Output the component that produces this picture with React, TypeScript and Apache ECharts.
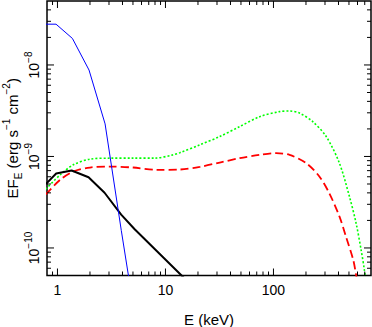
import React, { useEffect, useRef } from "react";
import * as echarts from "echarts";

const X_MIN = 0.8;
const X_MAX = 800;
const Y_MIN = 5e-11;
const Y_MAX = 5e-8;

const xMajorTicks = [1, 10, 100];
const xMinorTicks = [0.9, 2, 3, 4, 5, 6, 7, 8, 9, 20, 30, 40, 50, 60, 70, 80, 90, 200, 300, 400, 500, 600, 700];
const yMajorTicks = [1e-10, 1e-9, 1e-8];
const yMinorTicks = [6e-11, 7e-11, 8e-11, 9e-11, 2e-10, 3e-10, 4e-10, 5e-10, 6e-10, 7e-10, 8e-10, 9e-10,
  2e-9, 3e-9, 4e-9, 5e-9, 6e-9, 7e-9, 8e-9, 9e-9, 2e-8, 3e-8, 4e-8];

const blueE = [0.7, 0.97, 1.375, 1.96, 2.76, 3.9, 5.5];
const blueF = [2.79e-8, 2.79e-8, 1.95e-8, 8.8e-9, 2.27e-9, 1.55e-10, 1.2e-11];

const blackE = [0.78, 0.973, 1.352, 1.94, 2.73, 3.89, 5.16, 14.1, 20];
const blackF = [5.0e-10, 6.51e-10, 7.02e-10, 5.92e-10, 4.01e-10, 2.31e-10, 1.61e-10, 5.0e-11, 3.3e-11];

const greenE = [0.78, 1.06, 1.4, 2.0, 3.07, 5.0, 8.0, 11.7, 13.6, 20.8, 31.8, 48.7, 74.5, 114, 141, 175, 231, 308, 408, 505, 582, 647, 694, 760];
const greenF = [4.4e-10, 6.3e-10, 8.1e-10, 9.35e-10, 9.58e-10, 9.6e-10, 9.58e-10, 1.04e-9, 1.1e-9, 1.34e-9, 1.65e-9, 2.12e-9, 2.72e-9, 3.09e-9, 3.14e-9, 2.97e-9, 2.4e-9, 1.65e-9, 8.45e-10, 3.65e-10, 1.87e-10, 9.6e-11, 5.8e-11, 2.5e-11];

const redE = [0.78, 1.06, 1.4, 2.0, 3.07, 5.03, 8.29, 13.6, 20.8, 31.8, 48.7, 74.5, 106, 141, 201, 266, 328, 408, 468, 547, 582, 650];
const redF = [3.85e-10, 5.56e-10, 6.85e-10, 7.57e-10, 7.76e-10, 7.57e-10, 7.14e-10, 7.2e-10, 7.7e-10, 8.58e-10, 9.58e-10, 1.04e-9, 1.087e-9, 1.04e-9, 8.45e-10, 6.04e-10, 3.98e-10, 2.21e-10, 1.34e-10, 7.45e-11, 5.1e-11, 2.5e-11];

const FONT = "Liberation Sans, Arial, Helvetica, sans-serif";

const zip = (a: number[], b: number[]) => a.map((v, i) => [v, b[i]]);

export default function App() {
  const ref = useRef<HTMLDivElement>(null);
  useEffect(() => {
    if (!ref.current) return;
    const chart = echarts.init(ref.current, undefined, { renderer: "svg" });
    const xTickData = [
      ...xMajorTicks.map((v) => [v, 1e-9, 1]),
      ...xMinorTicks.map((v) => [v, 1e-9, 0]),
    ];
    const yTickData = [
      ...yMajorTicks.map((v) => [1, v, 1]),
      ...yMinorTicks.map((v) => [1, v, 0]),
    ];
    const tickStyle = { stroke: "#000", lineWidth: 1 };
    chart.setOption({
      animation: false,
      backgroundColor: "#fff",
      grid: {
        left: 47,
        right: 1,
        top: 1,
        bottom: 51.5,
        containLabel: false,
        outerBoundsMode: "none",
        show: true,
        borderColor: "#000",
        borderWidth: 1.5,
        backgroundColor: "transparent",
      },
      xAxis: {
        type: "log",
        min: X_MIN,
        max: X_MAX,
        axisLine: { show: false },
        axisTick: { show: false },
        splitLine: { show: false },
        minorTick: { show: false },
        axisLabel: {
          showMinLabel: false,
          showMaxLabel: false,
          margin: 7,
          color: "#000",
          fontFamily: FONT,
          fontSize: 14,
          formatter: (v: number) => String(Math.round(v)),
        },
        name: "E (keV)",
        nameLocation: "middle",
        nameGap: 36,
        nameMoveOverlap: false,
        nameTextStyle: { color: "#000", fontFamily: FONT, fontSize: 15 },
      },
      yAxis: {
        type: "log",
        min: Y_MIN,
        max: Y_MAX,
        axisLine: { show: false },
        axisTick: { show: false },
        splitLine: { show: false },
        minorTick: { show: false },
        axisLabel: {
          showMinLabel: false,
          showMaxLabel: false,
          rotate: 90,
          margin: 6,
          color: "#000",
          fontFamily: FONT,
          formatter: (v: number) => {
            const e = Math.round(Math.log10(v));
            return `{b|10}{s|\u2212${Math.abs(e)}}`;
          },
          rich: {
            b: { fontSize: 14, fontFamily: FONT, color: "#000", lineHeight: 18, verticalAlign: "bottom" },
            s: { fontSize: 10, fontFamily: FONT, color: "#000", lineHeight: 18, verticalAlign: "top" },
          },
        },
        name: "EF{sub|E} (erg s{sup|\u22121} cm{sup|\u22122})",
        nameLocation: "middle",
        nameRotate: 90,
        nameGap: 24,
        nameMoveOverlap: false,
        nameTextStyle: {
          color: "#000",
          fontFamily: FONT,
          fontSize: 15,
          rich: {
            sub: { fontSize: 10, fontFamily: FONT, color: "#000", lineHeight: 22, verticalAlign: "bottom" },
            sup: { fontSize: 10, fontFamily: FONT, color: "#000", lineHeight: 22, verticalAlign: "top" },
          },
        },
      },
      series: [
        {
          type: "line",
          data: zip(greenE, greenF),
          smooth: 0.3,
          showSymbol: false,
          symbol: "none",
          clip: true,
          lineStyle: { color: "#00ff00", width: 1.6, type: [2, 2] },
          z: 3,
        },
        {
          type: "line",
          data: zip(redE, redF),
          smooth: 0.3,
          showSymbol: false,
          symbol: "none",
          clip: true,
          lineStyle: { color: "#ff0000", width: 1.8, type: [8, 4] },
          z: 3,
        },
        {
          type: "line",
          data: zip(blackE, blackF),
          showSymbol: false,
          symbol: "none",
          clip: true,
          lineStyle: { color: "#000", width: 2 },
          z: 4,
        },
        {
          type: "line",
          data: zip(blueE, blueF),
          showSymbol: false,
          symbol: "none",
          clip: true,
          lineStyle: { color: "#0000ff", width: 1 },
          z: 4,
        },
        {
          type: "custom",
          data: xTickData,
          silent: true,
          z: 5,
          renderItem: (params: any, api: any) => {
            const cs = params.coordSys;
            const px = api.coord([api.value(0), Y_MIN])[0];
            const len = api.value(2) ? 7 : 4;
            const bottom = cs.y + cs.height;
            return {
              type: "group",
              children: [
                { type: "line", shape: { x1: px, y1: bottom, x2: px, y2: bottom - len }, style: tickStyle },
                { type: "line", shape: { x1: px, y1: cs.y, x2: px, y2: cs.y + len }, style: tickStyle },
              ],
            };
          },
        },
        {
          type: "custom",
          data: yTickData,
          silent: true,
          z: 5,
          renderItem: (params: any, api: any) => {
            const cs = params.coordSys;
            const py = api.coord([X_MIN, api.value(1)])[1];
            const len = api.value(2) ? 7 : 4;
            const right = cs.x + cs.width;
            return {
              type: "group",
              children: [
                { type: "line", shape: { x1: cs.x, y1: py, x2: cs.x + len, y2: py }, style: tickStyle },
                { type: "line", shape: { x1: right, y1: py, x2: right - len, y2: py }, style: tickStyle },
              ],
            };
          },
        },
      ],
    });
    return () => chart.dispose();
  }, []);
  return (
    <div
      ref={ref}
      style={{ position: "fixed", left: 0, top: 0, width: 372, height: 327 }}
    />
  );
}
